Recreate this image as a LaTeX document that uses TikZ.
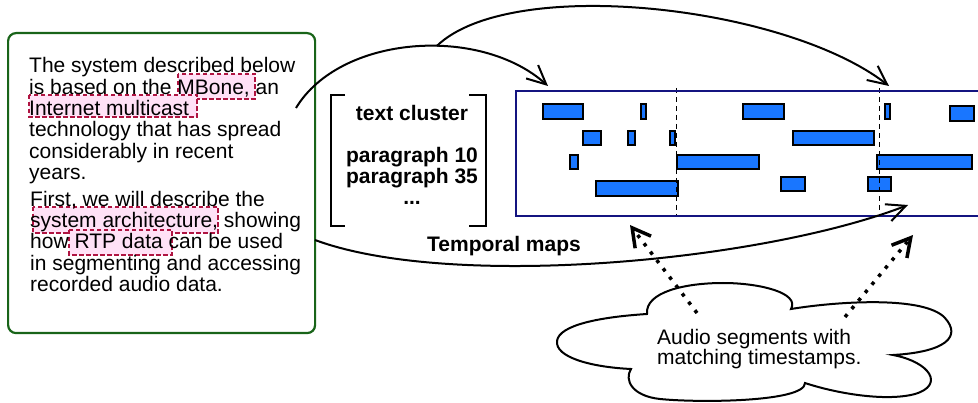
\documentclass[tikz,border=0pt]{standalone}
\usepackage{fontspec}
\setmainfont{Liberation Sans}
\usetikzlibrary{arrows.meta}
\definecolor{boxgreen}{RGB}{25,100,25}
\definecolor{mapnavy}{RGB}{20,20,128}
\definecolor{barblue}{RGB}{25,118,255}
\definecolor{hlpink}{RGB}{255,225,246}
\definecolor{hlborder}{RGB}{175,20,65}
\begin{document}
\begin{tikzpicture}[x=1pt,y=-1pt,
  bodytext/.style={inner sep=0pt, align=left, anchor=north west, font=\fontsize{21}{21.4}\selectfont},
  boldtext/.style={inner sep=0pt, align=center, font=\fontsize{21}{21}\selectfont\bfseries},
  hl/.style={fill=hlpink, draw=hlborder, dash pattern=on 4.5pt off 2.5pt, line width=1.2pt},
  bar/.style={fill=barblue, draw=black, line width=2pt},
  bracketline/.style={line width=2.4pt},
  mapline/.style={draw=mapnavy, line width=2.2pt},
  timedash/.style={line width=1pt, dash pattern=on 5pt off 4pt},
  arcline/.style={line width=2pt, -{Straight Barb[length=19pt,width=18pt]}},
  dotarrow/.style={line width=3.5pt, dash pattern=on 3.5pt off 7pt, -{Straight Barb[length=18pt,width=20pt]}},
  cloudline/.style={draw=black, fill=white, line width=2pt}]
\useasboundingbox (0,0) rectangle (978,403);

% left text box
\node[draw=boxgreen, line width=2.2pt, rounded corners=8pt, minimum width=307pt, minimum height=300pt, inner sep=0pt, anchor=north west] (textbox) at (7,32) {};

% highlights
\path[hl] (178,74) rectangle (255,99);
\path[hl] (29,95) rectangle (197,117);
\path[hl] (33,207) rectangle (218,233);
\path[hl] (69,230) rectangle (172,255);

\node[bodytext] (para1) at (29,57.3) {The system described below\\is based on the MBone, an\\Internet multicast\\technology that has spread\\considerably in recent\\years.};
\node[bodytext] (para2) at (30,190.7) {First, we will describe the\\system architecture, showing\\how RTP data can be used\\in segmenting and accessing\\recorded audio data.};

% text cluster
\draw[bracketline] (345,95) -- (331,95) -- (331,226) -- (345,226);
\draw[bracketline] (469,95) -- (486,95) -- (486,226) -- (469,226);
\node[boldtext, anchor=north] (cluster) at (412,105) {text cluster\\[21.4pt]paragraph 10\\paragraph 35\\...};
\node[boldtext] (tmaps) at (504,246) {Temporal maps};

% temporal map bars
\foreach \xa/\ya/\xb/\yb in {
  542.7/104.3/583.3/119, 640.7/104.3/645.7/119, 742.7/104.3/784/119, 885.3/104.3/890.3/119, 950/106.5/973.5/121,
  582.7/131/600.7/145, 628.3/131/635.3/145, 669.7/131/674.7/145, 792.7/131/874.3/145,
  570.3/154.7/577.7/169, 677/154.7/759/169, 877/154.7/972.3/169,
  596.3/181/678.3/195.7, 781/177/804.7/191, 867.7/177/891.3/191}
  \draw[bar] (\xa,\ya) rectangle (\xb,\yb);
\draw[timedash] (676,88) -- (676,216);
\draw[timedash] (879,88) -- (879,216);
\draw[mapline] (980,91) -- (516,91) -- (516,216) -- (980,216);

% connectors
\coordinate (src1) at (296,108);
\coordinate (src2) at (315,240);
\coordinate (tip1) at (548,86);
\coordinate (tip2) at (889,86);
\coordinate (tip3) at (908,205);
\draw[arcline] (src1) .. controls (340,35) and (480,25) .. coordinate[pos=0.58] (branch) (tip1);
\draw[arcline] (branch) .. controls (510,-25) and (785,5) .. (tip2);
\draw[arcline] (src2) .. controls (450,290) and (760,262) .. (tip3);

% cloud
\draw[cloudline] (647,314) .. controls (645,292) and (685,283) .. (723,283)
  .. controls (760,283) and (800,293) .. (791,309)
  .. controls (840,301) and (925,296) .. (945,318)
  .. controls (962,337) and (945,352) .. (893,355)
  .. controls (930,362) and (945,385) .. (915,394)
  .. controls (885,402) and (835,393) .. (805,383)
  .. controls (805,402) and (700,403) .. (660,399)
  .. controls (632,396) and (624,380) .. (631,369)
  .. controls (590,367) and (555,357) .. (557,341)
  .. controls (559,325) and (600,317) .. (647,314) -- cycle;
\node[bodytext, font=\fontsize{21}{20}\selectfont] (cloudtext) at (657,329.3) {Audio segments with\\matching timestamps.};

\coordinate (cs1) at (697,313);
\coordinate (cs2) at (845,317);
\coordinate (ct1) at (630,225);
\coordinate (ct2) at (913,235);
\draw[dotarrow] (cs1) -- (ct1);
\draw[dotarrow] (cs2) -- (ct2);
\end{tikzpicture}
\end{document}
